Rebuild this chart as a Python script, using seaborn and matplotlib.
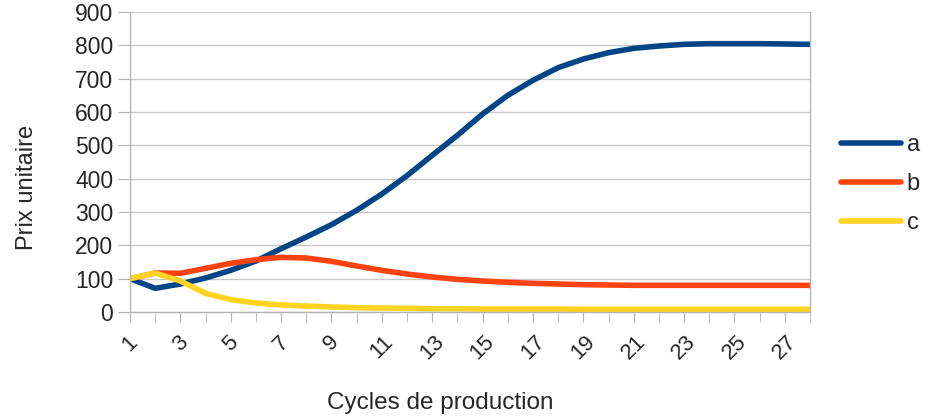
import numpy as np
import pandas as pd
import seaborn as sns
import matplotlib.pyplot as plt
from matplotlib.ticker import MultipleLocator


sns.set_style('white')
plt.rcParams['font.family'] = ['Liberation Sans', 'DejaVu Sans']

cycles = list(range(1, 29))
a = [100, 71, 84, 102, 125, 153, 190, 225, 262, 305, 354, 409, 470, 530, 594,
     650, 695, 733, 759, 778, 791, 798, 803, 805, 805, 805, 804, 803]
b = [100, 117, 116, 131, 146, 157, 164, 162, 152, 138, 125, 114, 105, 98, 93,
     89, 86, 84, 82, 81, 80, 80, 80, 80, 80, 80, 80, 80]
c = [100, 117, 93, 56, 37, 27, 21, 18, 15, 13, 12, 11, 10, 10, 9,
     9, 9, 9, 8, 8, 8, 8, 8, 8, 8, 8, 8, 8]
series = ['a', 'b', 'c']
colors = ['#004586', '#ff420e', '#ffd320']
xtick_labels = [str(i) for i in range(1, 28, 2)]

df = pd.DataFrame({
    'cycle': cycles * 3,
    'prix': a + b + c,
    'serie': [s for s in series for _ in cycles],
})

fig = plt.figure(figsize=(9.43, 4.19), dpi=100)
ax = fig.add_axes([130 / 943, 1 - 312 / 419, 680 / 943, 300 / 419])

sns.lineplot(data=df, x='cycle', y='prix', hue='serie', palette=colors,
             linewidth=4, ax=ax)

ax.set_xlim(1, 28)
ax.set_ylim(0, 900)
ax.yaxis.set_major_locator(MultipleLocator(100))
ax.grid(axis='y', color='#c8c8c8', linewidth=1)
ax.set_axisbelow(True)

ax.set_xticks(range(1, 28, 2))
ax.set_xticklabels(xtick_labels, rotation=45, ha='center', va='top')
ax.xaxis.set_minor_locator(MultipleLocator(1))
ax.tick_params(axis='x', which='both', direction='out', length=7,
               color='#b3b3b3', labelsize=16, pad=7, bottom=True)
ax.tick_params(axis='y', direction='out', length=9, color='#b3b3b3',
               labelsize=16.5, pad=3, left=True)

for side in ['left', 'bottom', 'right']:
    ax.spines[side].set_color('#b3b3b3')
    ax.spines[side].set_linewidth(1)
ax.spines['top'].set_visible(False)

ax.set_xlabel('Cycles de production', fontsize=17.5)
ax.set_ylabel('Prix unitaire', fontsize=17)
ax.xaxis.set_label_coords((440 - 130) / 680, -(403 - 312) / 300)
ax.yaxis.set_label_coords(-(130 - 27) / 680, (312 - 187) / 300)
ax.xaxis.label.set_va('center')
ax.yaxis.label.set_va('center')

leg = ax.legend(loc='center left', bbox_to_anchor=(1.031, 0.427),
                borderaxespad=0, frameon=False, fontsize=17,
                handlelength=2.55, labelspacing=0.72, handletextpad=0.25)
for line in leg.get_lines():
    line.set_linewidth(4)

fig.savefig('out.png', dpi=100)
